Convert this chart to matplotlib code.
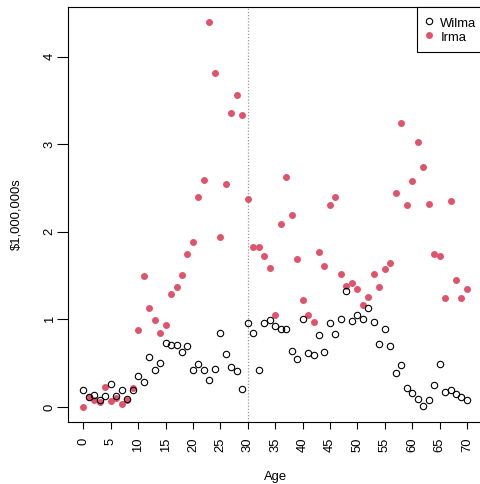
import numpy as np
import matplotlib
matplotlib.use("Agg")
import matplotlib.pyplot as plt
from matplotlib.lines import Line2D

plt.rcParams['font.family'] = ['Liberation Sans', 'DejaVu Sans']

age = np.arange(0, 71)

wilma = [0.20, 0.11, 0.14, 0.08, 0.125, 0.26, 0.13, 0.19, 0.09, 0.19,
         0.35, 0.29, 0.575, 0.42, 0.50, 0.735, 0.705, 0.705, 0.63, 0.70,
         0.42, 0.495, 0.42, 0.31, 0.435, 0.84, 0.61, 0.457, 0.41, 0.21,
         0.96, 0.84, 0.42, 0.96, 0.99, 0.92, 0.895, 0.89, 0.64, 0.545,
         1.005, 0.62, 0.59, 0.82, 0.63, 0.96, 0.83, 1.01, 1.33, 0.98,
         1.05, 1.01, 1.13, 0.97, 0.715, 0.89, 0.70, 0.39, 0.48, 0.22,
         0.155, 0.09, 0.015, 0.075, 0.25, 0.49, 0.175, 0.195, 0.15, 0.115,
         0.085]

irma = [0.005, 0.12, 0.08, 0.055, 0.225, 0.065, 0.105, 0.03, 0.08, 0.22,
        0.88, 1.50, 1.13, 0.99, 0.85, 0.94, 1.295, 1.375, 1.51, 1.75,
        1.88, 2.40, 2.59, 4.39, 3.81, 1.94, 2.54, 3.36, 3.56, 3.33,
        2.37, 1.83, 1.83, 1.72, 1.585, 1.055, 2.09, 2.62, 2.19, 1.69,
        1.22, 1.055, 0.97, 1.77, 1.61, 2.305, 2.40, 1.515, 1.38, 1.42,
        1.35, 1.165, 1.26, 1.52, 1.37, 1.58, 1.64, 2.445, 3.24, 2.31,
        2.575, 3.02, 2.74, 2.32, 1.75, 1.725, 1.25, 2.35, 1.455, 1.245,
        1.35]

names = ["Wilma", "Irma"]
red = "#DF536B"
fs = 9.4

fig = plt.figure(figsize=(4.81, 4.84), dpi=100)
# plot region, right edge runs just past the canvas
ax = fig.add_axes([68 / 481, 62 / 484, 414.3 / 481, 415 / 484])

ax.plot(age, irma, 'o', color=red, markersize=5.0, markeredgewidth=0, zorder=3)
ax.plot(age, wilma, 'o', markerfacecolor='none', markeredgecolor='black',
        markersize=4.6, markeredgewidth=0.8, zorder=4)
ax.axvline(30, color='#999999', linestyle=(0, (1, 1.5)), linewidth=0.9, zorder=2)

# R-style 4% padding on both axes
x0, x1 = age.min(), age.max()
allv = np.concatenate([wilma, irma])
y0, y1 = allv.min(), allv.max()
ax.set_xlim(x0 - 0.04 * (x1 - x0), x1 + 0.04 * (x1 - x0))
ax.set_ylim(y0 - 0.04 * (y1 - y0), y1 + 0.04 * (y1 - y0))

ax.set_xticks(np.arange(0, 71, 5))
ax.set_yticks(np.arange(0, 5, 1))
ax.tick_params(axis='x', labelrotation=90, length=4.8, width=0.8, pad=6.5, labelsize=fs)
ax.tick_params(axis='y', labelrotation=90, length=8, width=0.8, pad=0.8, labelsize=fs)
for lab in ax.get_yticklabels():
    lab.set_va('center')

for s in ax.spines.values():
    s.set_linewidth(0.8)

ax.set_xlabel("Age", fontsize=fs, va='center')
ax.xaxis.set_label_coords(0.5, -55 / 415)
ax.set_ylabel(r"\$1,000,000s", fontsize=fs, va='center')
ax.yaxis.set_label_coords(-52 / 414.3, 0.5)

handles = [
    Line2D([], [], linestyle='none', marker='o', markerfacecolor='none',
           markeredgecolor='black', markersize=4.6, markeredgewidth=0.8),
    Line2D([], [], linestyle='none', marker='o', color=red, markersize=5.0,
           markeredgewidth=0),
]
leg = ax.legend(handles, names, loc='upper right',
                bbox_to_anchor=(1 + 2.7 / 414.3, 1),
                borderaxespad=0, fancybox=False, framealpha=1,
                edgecolor='black', fontsize=fs, handlelength=0.58,
                handleheight=1.2, handletextpad=0.57, borderpad=0.65,
                labelspacing=0.0)
leg.get_frame().set_linewidth(0.8)

fig.savefig("out.png", dpi=100)
